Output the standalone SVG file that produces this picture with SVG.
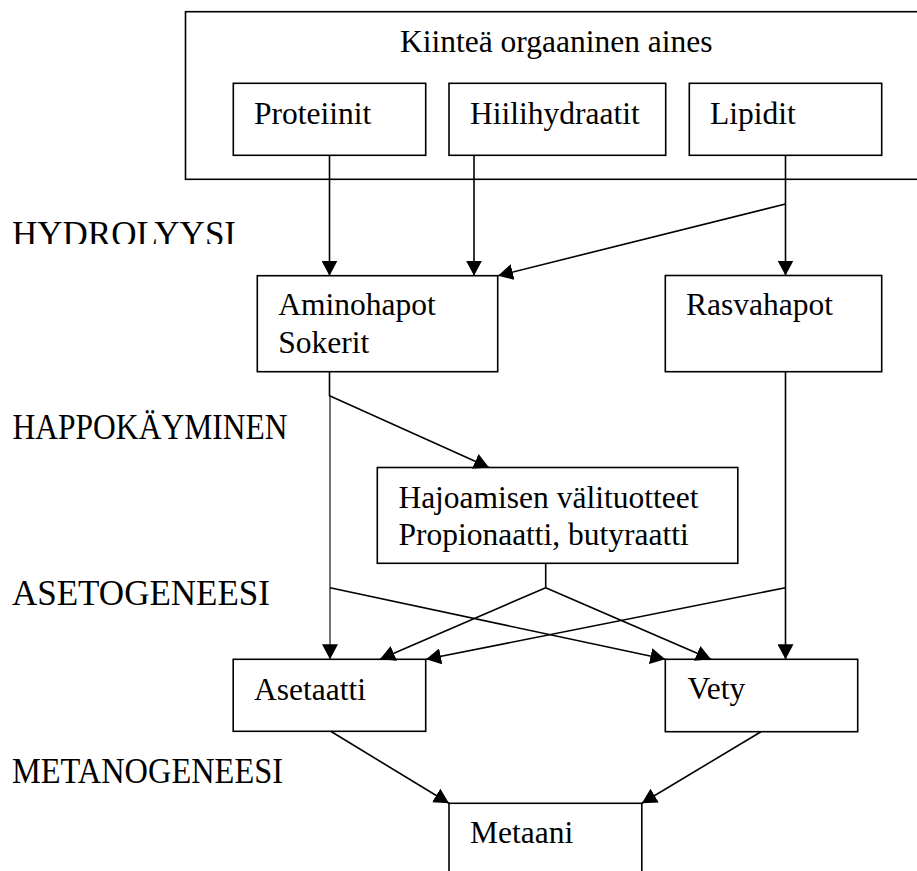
<svg xmlns="http://www.w3.org/2000/svg" width="917" height="871" viewBox="0 0 917 871">
<style>
  .box { fill: #ffffff; stroke: #000000; stroke-width: 1.6; }
  .t { font-family: "Liberation Serif", "Times New Roman", serif; font-size: 31.5px; fill: #000000; }
  .lab { font-family: "Liberation Serif", "Times New Roman", serif; font-size: 35px; fill: #000000; }
  .c { fill: none; stroke: #000000; stroke-width: 1.6; }
  .thin { fill: none; stroke: #000000; stroke-width: 1.1; }
</style>
<defs>
  <marker id="arr" viewBox="0 0 15 16" refX="15" refY="8" markerWidth="15" markerHeight="16" markerUnits="userSpaceOnUse" orient="auto">
    <path d="M0,0 L15,8 L0,16 z" fill="#000000"/>
  </marker>
  <clipPath id="hydroClip">
    <rect x="0" y="200" width="320" height="44"/>
  </clipPath>
</defs>
<rect width="917" height="871" fill="#ffffff"/>

<g id="labels">
  <text class="lab" x="12" y="246" clip-path="url(#hydroClip)">HYDROLYYSI</text>
  <text class="lab" x="12.5" y="439.3" textLength="275" lengthAdjust="spacingAndGlyphs">HAPPOKÄYMINEN</text>
  <text class="lab" x="12" y="605">ASETOGENEESI</text>
  <text class="lab" x="12" y="783" textLength="271" lengthAdjust="spacingAndGlyphs">METANOGENEESI</text>
</g>

<g id="kiintea">
  <rect class="box" x="185.5" y="11.7" width="740" height="167.6"/>
  <text class="t" x="400" y="51.7">Kiinteä orgaaninen aines</text>
</g>
<g id="proteiinit">
  <rect class="box" x="233.3" y="83.3" width="192.4" height="72"/>
  <text class="t" x="254" y="123.5">Proteiinit</text>
</g>
<g id="hiilihydraatit">
  <rect class="box" x="449" y="83.3" width="216.7" height="72"/>
  <text class="t" x="470" y="123.5">Hiilihydraatit</text>
</g>
<g id="lipidit">
  <rect class="box" x="689.3" y="83.3" width="192.4" height="72"/>
  <text class="t" x="710" y="124">Lipidit</text>
</g>
<g id="aminohapot">
  <rect class="box" x="257.3" y="275.7" width="240.4" height="96"/>
  <text class="t" x="278.3" y="315">Aminohapot</text>
  <text class="t" x="278.3" y="352.7">Sokerit</text>
</g>
<g id="rasvahapot">
  <rect class="box" x="665.3" y="275.5" width="216.4" height="96.2"/>
  <text class="t" x="686" y="315">Rasvahapot</text>
</g>
<g id="hajoamisen">
  <rect class="box" x="377.3" y="467.5" width="360.5" height="95.8"/>
  <text class="t" x="398.4" y="508.3">Hajoamisen välituotteet</text>
  <text class="t" x="398.4" y="545">Propionaatti, butyraatti</text>
</g>
<g id="asetaatti">
  <rect class="box" x="233.2" y="659.3" width="192.5" height="72"/>
  <text class="t" x="254" y="700">Asetaatti</text>
</g>
<g id="vety">
  <rect class="box" x="665.3" y="659.3" width="192.4" height="72.4"/>
  <text class="t" x="687.5" y="699">Vety</text>
</g>
<g id="metaani">
  <rect class="box" x="449" y="803.3" width="192.8" height="90"/>
  <text class="t" x="470" y="843.3">Metaani</text>
</g>

<g id="connectors">
  <path class="c" d="M329.5 155.3 V275.7" marker-end="url(#arr)"/>
  <path class="c" d="M474 155.3 V275.7" marker-end="url(#arr)"/>
  <path class="c" d="M785.5 155.3 V275.5" marker-end="url(#arr)"/>
  <path class="c" d="M785.5 204 L498 275.7" marker-end="url(#arr)"/>
  <path class="c" d="M329.5 371.7 V395.7 L489 467.5" marker-end="url(#arr)"/>
  <path class="thin" d="M330 395.7 V659.3" marker-end="url(#arr)"/>
  <path class="c" d="M785.5 371.7 V659.3" marker-end="url(#arr)"/>
  <path class="c" d="M330 587.7 L665.3 659.3" marker-end="url(#arr)"/>
  <path class="c" d="M545.7 563.3 V587.7"/>
  <path class="c" d="M545.7 587.7 L380 659.3" marker-end="url(#arr)"/>
  <path class="c" d="M545.7 587.7 L711 659.3" marker-end="url(#arr)"/>
  <path class="c" d="M785.5 587.7 L426 659.3" marker-end="url(#arr)"/>
  <path class="c" d="M330.7 731.3 L449 803.3" marker-end="url(#arr)"/>
  <path class="c" d="M761 731.7 L641.8 803.3" marker-end="url(#arr)"/>
</g>
</svg>
